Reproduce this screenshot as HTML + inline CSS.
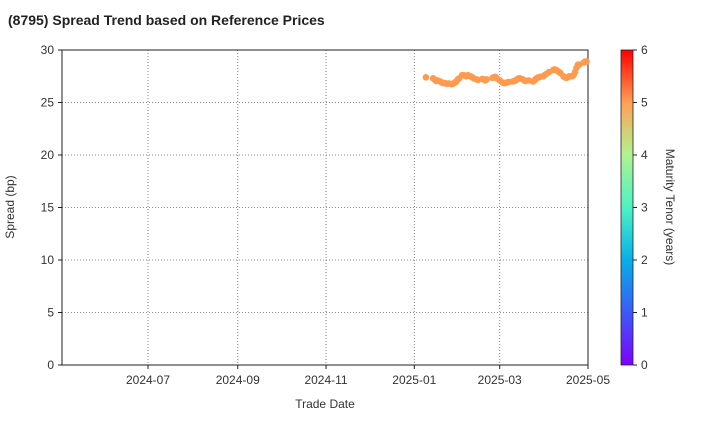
<!DOCTYPE html>
<html><head><meta charset="utf-8"><style>
body{margin:0;background:#fff;font-family:"Liberation Sans",sans-serif}
svg text{font-family:"Liberation Sans",sans-serif;fill:#333}
</style></head><body>
<svg width="720" height="420">
<defs><linearGradient id="rb" x1="0" y1="1" x2="0" y2="0">
<stop offset="0" stop-color="#8000ff"/><stop offset="0.17" stop-color="#3a5cf7"/><stop offset="0.33" stop-color="#06aee9"/><stop offset="0.5" stop-color="#4cf2c4"/><stop offset="0.67" stop-color="#b1f28f"/><stop offset="0.83" stop-color="#ffa256"/><stop offset="1" stop-color="#ff0000"/></linearGradient></defs>
<text x="8" y="25" font-size="14" font-weight="bold" style="fill:#222">(8795)   Spread Trend based on Reference Prices</text>
<g id="grid"></g>
<rect x="62" y="50" width="526" height="315" fill="none" stroke="#222" stroke-width="1"/>
<g id="pts"></g>
<text x="325" y="408" font-size="12" text-anchor="middle">Trade Date</text>
<text transform="translate(14,207) rotate(-90)" font-size="12" text-anchor="middle">Spread (bp)</text>
<rect x="621" y="50" width="12" height="315" fill="url(#rb)" stroke="#222" stroke-width="0.8"/>
<g id="cb"></g>
<text transform="translate(666,207) rotate(90)" font-size="12" text-anchor="middle">Maturity Tenor (years)</text>
</svg>
<script>
const yTicks=[0,5,10,15,20,25,30];
const xTickLabels=["2024-07","2024-09","2024-11","2025-01","2025-03","2025-05"];
const cbTicks=[0,1,2,3,4,5,6];
const dates=["2025-01-09","2025-01-14","2025-01-15","2025-01-16","2025-01-17","2025-01-19","2025-01-20","2025-01-21","2025-01-22","2025-01-23","2025-01-24","2025-01-25","2025-01-27","2025-01-28","2025-01-29","2025-01-30","2025-01-31","2025-02-01","2025-02-03","2025-02-04","2025-02-05","2025-02-06","2025-02-07","2025-02-09","2025-02-10","2025-02-11","2025-02-13","2025-02-14","2025-02-17","2025-02-18","2025-02-19","2025-02-20","2025-02-24","2025-02-25","2025-02-26","2025-02-27","2025-03-01","2025-03-03","2025-03-04","2025-03-05","2025-03-06","2025-03-07","2025-03-10","2025-03-11","2025-03-12","2025-03-13","2025-03-14","2025-03-15","2025-03-17","2025-03-18","2025-03-19","2025-03-21","2025-03-24","2025-03-25","2025-03-26","2025-03-27","2025-03-28","2025-03-29","2025-03-31","2025-04-01","2025-04-02","2025-04-04","2025-04-07","2025-04-08","2025-04-09","2025-04-10","2025-04-11","2025-04-12","2025-04-14","2025-04-15","2025-04-16","2025-04-17","2025-04-18","2025-04-20","2025-04-21","2025-04-22","2025-04-23","2025-04-24","2025-04-25","2025-04-28","2025-04-29","2025-04-30"];
const spreads=[27.4,27.3,27.2,27.05,27.1,27.0,26.9,26.85,26.85,26.8,26.8,26.8,26.75,26.8,26.9,27.0,27.2,27.3,27.6,27.6,27.55,27.5,27.6,27.5,27.4,27.3,27.2,27.15,27.25,27.2,27.1,27.2,27.35,27.4,27.45,27.3,27.1,26.9,26.85,26.85,26.9,26.95,27.0,27.05,27.1,27.2,27.3,27.3,27.2,27.1,27.05,27.1,27.0,27.1,27.25,27.35,27.4,27.45,27.5,27.6,27.7,27.9,28.1,28.15,28.1,28.0,27.9,27.8,27.5,27.4,27.35,27.4,27.5,27.5,27.6,27.9,28.3,28.6,28.6,28.8,28.9,28.9];
const tenors=new Array(dates.length).fill(4.7);
const NS="http://www.w3.org/2000/svg";
const x0=Date.UTC(2024,6,1),pxDay=440/304;
function xs(d){const p=d.split("-").map(Number);return 148+(Date.UTC(p[0],p[1]-1,p[2])-x0)/864e5*pxDay;}
function ys(v){return 365-v*10.5;}
function el(t,a,parent){const e=document.createElementNS(NS,t);for(const k in a)e.setAttribute(k,a[k]);parent.appendChild(e);return e;}
const g=document.getElementById("grid");
yTicks.forEach(v=>{const y=ys(v);
 const l=el("line",{x1:62,x2:588,y1:y,y2:y,stroke:"#666","stroke-dasharray":"1,2","stroke-width":0.8},g);
 
 
 el("line",{x1:58,x2:62,y1:y,y2:y,stroke:"#222"},g);
 const t=el("text",{x:54,y:y+4,"font-size":12,"text-anchor":"end"},g);t.textContent=v;
 
 
});
xTickLabels.forEach(s=>{const x=xs(s+"-01");
 const l=el("line",{x1:x,x2:x,y1:50,y2:365,stroke:"#666","stroke-dasharray":"1,2","stroke-width":0.8},g);
 
 
 el("line",{x1:x,x2:x,y1:365,y2:369,stroke:"#222"},g);
 const t=el("text",{x:x,y:384,"font-size":12,"text-anchor":"middle"},g);t.textContent=s;
 
 
});
function tcol(t){return t>=4.5?"#ff9a4e":"#f80";}
const pg=document.getElementById("pts");
dates.forEach((d,i)=>{const c=el("circle",{cx:xs(d),cy:ys(spreads[i]),r:3.3,fill:tcol(tenors[i])},pg);
 
 
});
const cb=document.getElementById("cb");
cbTicks.forEach(v=>{const y=365-v*52.5;
 el("line",{x1:633,x2:637,y1:y,y2:y,stroke:"#222"},cb);
 const t=el("text",{x:641,y:y+4,"font-size":12},cb);t.textContent=v;
 
 
});
</script>
</body></html>
